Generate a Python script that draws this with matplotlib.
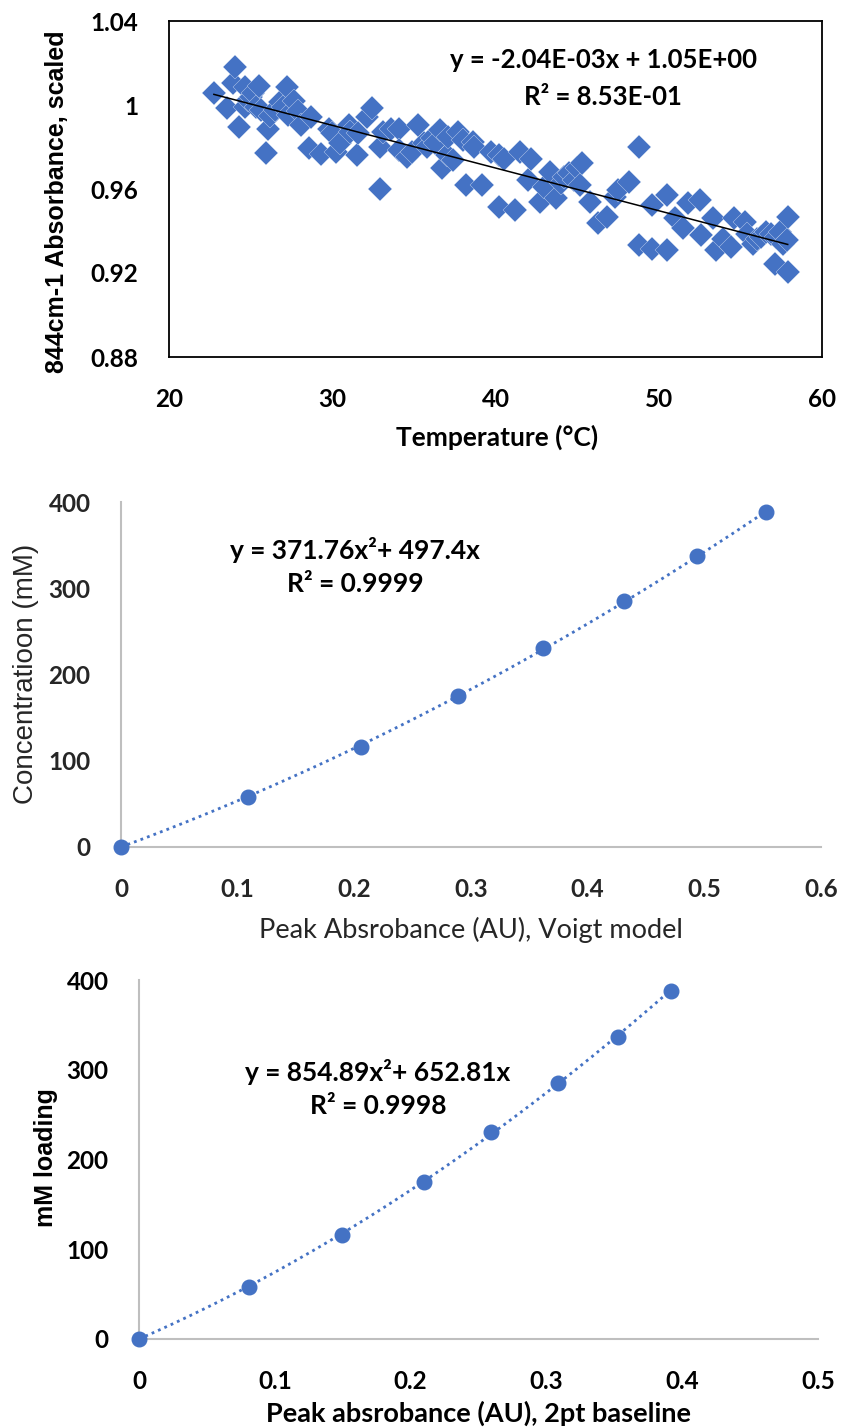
import numpy as np
import matplotlib
matplotlib.use('Agg')
import matplotlib.pyplot as plt

# top panel: absorbance vs temperature
temp_c = [22.75, 23.57, 23.9, 24.07, 24.27, 24.67, 24.67, 24.83, 25.0, 25.16,
          25.3, 25.49, 25.66, 25.92, 26.05, 26.2, 26.5, 26.8, 27.0, 27.2,
          27.3, 27.64, 27.9, 28.1, 28.6, 28.7, 29.3, 29.8, 30.0, 30.2,
          30.45, 31.05, 31.1, 31.5, 31.6, 32.1, 32.45, 32.9, 32.94, 33.1,
          33.6, 34.1, 34.1, 34.6, 34.9, 35.25, 35.6, 35.8, 36.1, 36.3,
          36.6, 36.75, 37.0, 37.1, 37.4, 37.7, 38.0, 38.2, 38.6, 38.7,
          39.2, 39.7, 40.2, 40.2, 40.55, 41.2, 41.5, 42.0, 42.2, 42.7,
          43.0, 43.35, 43.7, 44.0, 44.2, 44.5, 44.8, 45.0, 45.2, 45.3,
          45.8, 46.3, 46.8, 47.3, 47.5, 48.2, 48.8, 48.8, 49.6, 49.6,
          50.5, 50.5, 51.0, 51.5, 51.8, 52.5, 52.6, 53.3, 53.5, 53.95,
          54.45, 54.6, 55.3, 55.4, 55.8, 56.0, 56.25, 56.6, 56.9, 57.1,
          57.2, 57.4, 57.6, 57.85, 57.9, 57.9]
absorb = [1.0055, 0.9988, 1.0103, 1.0182, 0.9896, 1.0087, 0.9992, 1.0023, 1.0040, 1.0055,
          0.9990, 1.0090, 0.9976, 0.9772, 0.9888, 0.9950, 0.9976, 1.0015, 0.9990, 1.0084,
          0.9952, 1.0020, 0.9970, 0.9904, 0.9793, 0.9944, 0.9769, 0.9888, 0.9865, 0.9777,
          0.9817, 0.9904, 0.9873, 0.9761, 0.9865, 0.9944, 0.9984, 0.9801, 0.9602, 0.9873,
          0.9888, 0.9888, 0.9785, 0.9753, 0.9777, 0.9904, 0.9817, 0.9800, 0.9841, 0.9820,
          0.9880, 0.9698, 0.9760, 0.9849, 0.9737, 0.9873, 0.9833, 0.9618, 0.9825, 0.9801,
          0.9618, 0.9777, 0.9761, 0.9515, 0.9745, 0.9499, 0.9777, 0.9642, 0.9745, 0.9539,
          0.9610, 0.9682, 0.9555, 0.9630, 0.9658, 0.9674, 0.9642, 0.9698, 0.9618, 0.9722,
          0.9539, 0.9436, 0.9467, 0.9563, 0.9594, 0.9634, 0.9801, 0.9332, 0.9523, 0.9316,
          0.9571, 0.9309, 0.9460, 0.9412, 0.9531, 0.9547, 0.9380, 0.9460, 0.9309, 0.9364,
          0.9324, 0.9460, 0.9444, 0.9388, 0.9340, 0.9360, 0.9372, 0.9396, 0.9388, 0.9245,
          0.9370, 0.9396, 0.9340, 0.9356, 0.9467, 0.9205]

# middle and bottom panels: calibration
conc_mm = [0, 58, 116, 175, 231, 285, 337, 388]
peak_voigt = [0, 0.109, 0.206, 0.2885, 0.362, 0.431, 0.494, 0.553]
peak_2pt = [0, 0.081, 0.1496, 0.2096, 0.2593, 0.3083, 0.3524, 0.3914]

eq1 = ['y = -2.04E-03x + 1.05E+00', 'R² = 8.53E-01']
eq2 = ['y = 371.76x²+ 497.4x', 'R² = 0.9999']
eq3 = ['y = 854.89x²+ 652.81x', 'R² = 0.9998']

BLUE = '#4472C4'
CAL = ['Lato', 'DejaVu Sans']
ARI = ['Liberation Sans', 'DejaVu Sans']
W, H = 846, 1428


def box(l, t, r, b):
    return [l / W, 1 - b / H, (r - l) / W, (b - t) / H]


def quad_fit(x, y):
    x = np.asarray(x, float)
    A = np.column_stack([x ** 2, x])
    coef = np.linalg.lstsq(A, np.asarray(y, float), rcond=None)[0]
    xs = np.linspace(0, x.max(), 200)
    return xs, coef[0] * xs ** 2 + coef[1] * xs


fig = plt.figure(figsize=(W / 100, H / 100), dpi=100)

# ---- top
ax1 = fig.add_axes(box(169, 21, 822, 357))
ax1.plot(temp_c, absorb, 'D', color=BLUE, ms=12, mec='#dce6f5', mew=0.25, zorder=2)
m, c = np.polyfit(temp_c, absorb, 1)
xs = np.array([min(temp_c), max(temp_c)])
ax1.plot(xs, m * xs + c, color='black', lw=1.1, zorder=3)
ax1.set_xlim(20, 60)
ax1.set_ylim(0.88, 1.04)
ax1.set_xticks([20, 30, 40, 50, 60])
ax1.set_yticks([0.88, 0.92, 0.96, 1.0, 1.04])
ax1.set_yticklabels(['0.88', '0.92', '0.96', '1', '1.04'])
for s in ax1.spines.values():
    s.set_color('black')
    s.set_linewidth(1.3)
ax1.tick_params(length=0, pad=22, labelsize=17.5)
for lab in ax1.get_xticklabels() + ax1.get_yticklabels():
    lab.set_family(CAL)
    lab.set_weight('bold')
ax1.text(0.665, 0.885, eq1[0], transform=ax1.transAxes, ha='center', va='center',
         family=CAL, weight='bold', fontsize=18.5)
ax1.text(0.665, 0.775, eq1[1], transform=ax1.transAxes, ha='center', va='center',
         family=CAL, weight='bold', fontsize=18.5)
fig.text(57 / W, 1 - 202 / H, '844cm-1 Absorbance, scaled', rotation=90,
         ha='center', va='center', family=ARI, weight='bold', fontsize=18)
fig.text(497 / W, 1 - 437 / H, 'Temperature (°C)', ha='center', va='center',
         family=CAL, weight='bold', fontsize=19)


def calib(ax, x, y, xmax, xticks, eq, eq_xy, tick_col, tick_w):
    ax.plot(x, y, 'o', color=BLUE, ms=10.5, zorder=3)
    xs, ys = quad_fit(x, y)
    ax.plot(xs, ys, color=BLUE, lw=2.0, ls=(0, (1, 1.5)), zorder=2)
    ax.set_xlim(0, xmax)
    ax.set_ylim(0, 400)
    ax.set_xticks(xticks)
    ax.set_xticklabels(['0'] + ['%g' % t for t in xticks[1:]])
    ax.set_yticks([0, 100, 200, 300, 400])
    ax.spines['top'].set_visible(False)
    ax.spines['right'].set_visible(False)
    for s in ('left', 'bottom'):
        ax.spines[s].set_color('#bfbfbf')
        ax.spines[s].set_linewidth(1.5)
    ax.tick_params(length=0, pad=22, labelsize=17.5, colors=tick_col)
    for lab in ax.get_xticklabels() + ax.get_yticklabels():
        lab.set_family(CAL)
        lab.set_weight(tick_w)
    for i, line in enumerate(eq):
        ax.text(eq_xy[0], eq_xy[1] - i * 34 / H, line, transform=fig.transFigure,
                ha='center', va='center', family=CAL, weight='bold', fontsize=19)
    ax.patch.set_alpha(0)
    for ln in ax.lines:
        ln.set_clip_on(False)


# ---- middle
ax2 = fig.add_axes(box(121, 502, 821, 847))
calib(ax2, peak_voigt, conc_mm, 0.6, [0, 0.1, 0.2, 0.3, 0.4, 0.5, 0.6], eq2,
      (355 / W, 1 - 550 / H), '#262626', 'bold')
fig.text(26 / W, 1 - 674 / H, 'Concentratioon (mM)', rotation=90, ha='center',
         va='center', family=ARI, fontsize=20, color='#262626')
fig.text(471 / W, 1 - 930 / H, 'Peak Absrobance (AU), Voigt model', ha='center',
         va='center', family=CAL, fontsize=19.5, color='#262626')

# ---- bottom
ax3 = fig.add_axes(box(139, 980, 818, 1339))
calib(ax3, peak_2pt, conc_mm, 0.5, [0, 0.1, 0.2, 0.3, 0.4, 0.5], eq3,
      (378 / W, 1 - 1072 / H), 'black', 'bold')
fig.text(46 / W, 1 - 1158 / H, 'mM loading', rotation=90, ha='center',
         va='center', family=ARI, weight='bold', fontsize=18)
fig.text(478 / W, 1 - 1413 / H, 'Peak absrobance (AU), 2pt baseline', ha='center',
         va='center', family=CAL, weight='bold', fontsize=19.5)

fig.savefig('out.png', dpi=100)
